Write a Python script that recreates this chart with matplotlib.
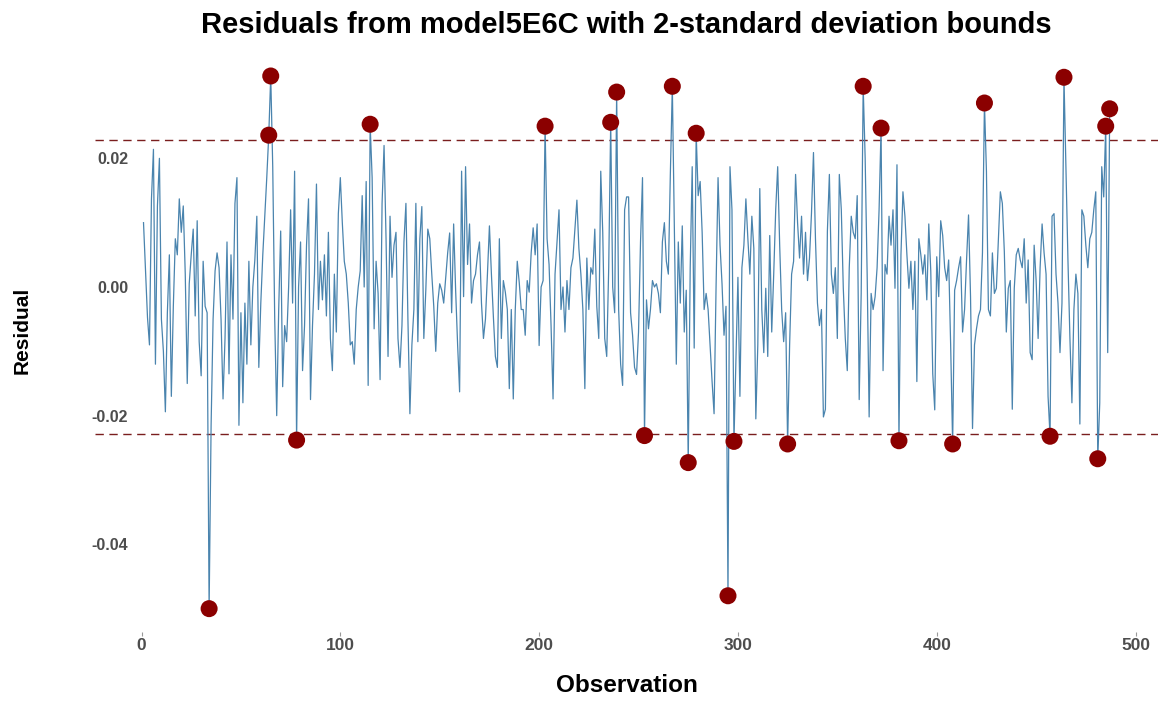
import matplotlib
matplotlib.use("Agg")
import matplotlib.pyplot as plt
import numpy as np

# ---------------- data ----------------
res_001_047 = [0.0100, 0.0026, -0.0047, -0.0090, 0.0137, 0.0214, -0.0120, 0.0126, 0.0200, -0.0050,
               -0.0100, -0.0194, -0.0040, 0.0050, -0.0170, -0.0030, 0.0075, 0.0050, 0.0137, 0.0085,
               0.0126, 0.0020, -0.0150, 0.0005, 0.0050, 0.0090, -0.0045, 0.0103, -0.0085, -0.0138,
               0.0040, -0.0030, -0.0040, -0.0500, -0.0215, -0.0050, 0.0025, 0.0053, 0.0030, -0.0050,
               -0.0174, -0.0080, 0.0070, -0.0135, 0.0050, -0.0050, 0.0130]
res_048_098 = [0.0170, -0.0215, -0.0040, -0.0180, -0.0025, -0.0120, 0.0040, -0.0090, 0.0000, 0.0042,
               0.0110, -0.0125, -0.0025, 0.0050, 0.0110, 0.0170, 0.0236, 0.0328, 0.0187, -0.0050,
               -0.0200, -0.0035, 0.0087, -0.0155, -0.0060, -0.0085, 0.0000, 0.0120, -0.0025, 0.0180,
               -0.0238, 0.0000, 0.0070, -0.0130, -0.0060, 0.0065, 0.0137, -0.0175, -0.0060, 0.0020,
               0.0160, -0.0035, 0.0040, -0.0020, 0.0050, -0.0045, 0.0085, -0.0080, -0.0130, 0.0020,
               -0.0070]
res_099_146 = [0.0114, 0.0170, 0.0100, 0.0040, 0.0020, -0.0025, -0.0090, -0.0085, -0.0120, -0.0035,
               0.0000, 0.0025, 0.0142, 0.0000, 0.0164, -0.0153, 0.0253, 0.0170, -0.0065, 0.0040,
               -0.0010, -0.0144, 0.0130, 0.0220, 0.0075, -0.0108, 0.0110, 0.0015, 0.0065, 0.0085,
               -0.0080, -0.0125, -0.0060, 0.0070, 0.0130, -0.0050, -0.0197, -0.0090, -0.0035, 0.0130,
               -0.0085, 0.0075, 0.0125, -0.0080, -0.0005, 0.0090, 0.0075, 0.0020]
res_147_196 = [-0.0030, -0.0100, -0.0025, 0.0005, -0.0005, -0.0025, 0.0015, 0.0053, 0.0084, -0.0040,
               0.0098, -0.0005, -0.0090, -0.0163, 0.0180, -0.0015, 0.0187, 0.0035, 0.0098, -0.0025,
               0.0010, 0.0020, 0.0050, 0.0070, -0.0025, -0.0080, -0.0050, 0.0020, 0.0095, 0.0020,
               -0.0047, -0.0108, -0.0125, 0.0075, -0.0080, 0.0010, -0.0008, -0.0035, -0.0158, -0.0035,
               -0.0174, -0.0035, 0.0040, 0.0007, -0.0035, -0.0035, -0.0075, 0.0010, -0.0008, 0.0053]
res_197_244 = [0.0092, 0.0050, 0.0098, -0.0091, 0.0000, 0.0010, 0.0250, 0.0075, 0.0035, -0.0060,
               -0.0174, 0.0020, 0.0070, 0.0120, -0.0035, 0.0000, -0.0070, 0.0010, -0.0035, 0.0030,
               0.0045, 0.0090, 0.0135, 0.0060, 0.0020, -0.0035, -0.0158, 0.0045, -0.0035, 0.0030,
               0.0020, 0.0090, -0.0030, -0.0080, 0.0180, 0.0085, -0.0080, -0.0108, 0.0030, 0.0256,
               0.0000, -0.0040, 0.0303, -0.0035, -0.0120, -0.0153, 0.0120, 0.0140]
res_245_293 = [0.0140, -0.0040, -0.0075, -0.0125, -0.0136, -0.0070, 0.0070, 0.0170, -0.0231, -0.0020,
               -0.0065, -0.0035, 0.0010, 0.0000, 0.0005, -0.0010, -0.0040, 0.0070, 0.0100, 0.0040,
               0.0020, 0.0175, 0.0312, 0.0090, -0.0120, 0.0070, -0.0025, 0.0095, -0.0070, -0.0005,
               -0.0273, 0.0030, 0.0187, -0.0095, 0.0239, 0.0142, 0.0164, 0.0085, -0.0035, -0.0010,
               -0.0035, -0.0091, -0.0147, -0.0197, 0.0000, 0.0170, 0.0065, 0.0005, -0.0075]
res_294_343 = [-0.0030, -0.0480, 0.0187, 0.0120, -0.0240, -0.0110, 0.0015, -0.0170, 0.0030, 0.0065,
               0.0137, 0.0075, 0.0020, 0.0110, 0.0060, -0.0205, -0.0090, 0.0153, -0.0035, -0.0102,
               -0.0002, -0.0108, 0.0080, -0.0070, 0.0020, 0.0120, 0.0187, 0.0065, -0.0035, -0.0085,
               -0.0040, -0.0244, -0.0090, 0.0020, 0.0040, 0.0175, 0.0100, 0.0045, 0.0110, 0.0020,
               0.0085, 0.0010, 0.0045, 0.0115, 0.0209, 0.0075, -0.0025, -0.0060, -0.0035, -0.0202]
res_344_393 = [-0.0190, 0.0087, 0.0175, 0.0020, -0.0010, 0.0030, -0.0080, 0.0175, 0.0120, -0.0002,
               -0.0080, -0.0130, 0.0030, 0.0110, 0.0085, 0.0075, 0.0142, -0.0175, -0.0010, 0.0312,
               0.0200, 0.0020, -0.0202, -0.0010, -0.0035, -0.0015, 0.0030, 0.0120, 0.0247, -0.0130,
               0.0035, 0.0020, 0.0110, 0.0065, 0.0120, -0.0002, 0.0190, -0.0239, 0.0050, 0.0148,
               0.0110, 0.0050, -0.0002, 0.0040, -0.0035, 0.0040, -0.0147, 0.0075, 0.0050, 0.0020]
res_394_443 = [0.0050, -0.0020, 0.0098, 0.0025, -0.0135, -0.0191, 0.0047, -0.0015, 0.0103, 0.0080,
               0.0030, 0.0010, 0.0042, -0.0090, -0.0244, -0.0005, 0.0010, 0.0030, 0.0047, -0.0070,
               -0.0035, 0.0042, 0.0112, -0.0015, -0.0220, -0.0090, -0.0065, -0.0045, -0.0035, 0.0053,
               0.0286, 0.0180, -0.0035, -0.0045, 0.0053, -0.0010, -0.0002, 0.0075, 0.0148, 0.0130,
               0.0055, -0.0070, -0.0002, 0.0010, -0.0190, -0.0002, 0.0050, 0.0060, 0.0042, 0.0030]
res_444_487 = [0.0075, -0.0025, 0.0042, -0.0102, -0.0113, 0.0065, 0.0010, -0.0080, 0.0030, 0.0098,
               0.0053, 0.0020, -0.0170, -0.0232, 0.0110, 0.0114, 0.0020, -0.0025, -0.0102, -0.0025,
               0.0326, 0.0187, 0.0042, -0.0080, -0.0180, -0.0035, 0.0020, -0.0010, -0.0213, 0.0120,
               0.0110, 0.0065, 0.0030, 0.0075, 0.0085, 0.0120, 0.0148, -0.0267, -0.0180, 0.0187,
               0.0140, 0.0250, -0.0102, 0.0277]

bound = 0.0229          # 2 standard deviations
x_ticks = [0, 100, 200, 300, 400, 500]
y_ticks = [-0.04, -0.02, 0.00, 0.02]
y_tick_labels = ["-0.04", "-0.02", "0.00", "0.02"]
title_text = "Residuals from model5E6C with 2-standard deviation bounds"
x_label = "Observation"
y_label = "Residual"

# ---------------- build ----------------
residuals = np.array(res_001_047 + res_048_098 + res_099_146 + res_147_196 + res_197_244 +
                     res_245_293 + res_294_343 + res_344_393 + res_394_443 + res_444_487)
obs = np.arange(1, len(residuals) + 1)
outlier = np.abs(residuals) > bound

plt.rcParams['font.family'] = ['Liberation Sans', 'DejaVu Sans']

W, H = 1168, 702
fig = plt.figure(figsize=(W / 100, H / 100), dpi=100)
fig.patch.set_facecolor("white")
L, R, T, B = 95, 1158, 50, 632
ax = fig.add_axes([L / W, 1 - B / H, (R - L) / W, (B - T) / H])

ax.plot(obs, residuals, color="#4A84AE", linewidth=0.9, zorder=2)
ax.axhline(bound, color="#7A1E1E", linewidth=1.0, linestyle=(0, (6, 4)), zorder=1)
ax.axhline(-bound, color="#7A1E1E", linewidth=1.0, linestyle=(0, (6, 4)), zorder=1)
ax.scatter(obs[outlier], residuals[outlier], s=150, color="#8B0000", zorder=3,
           edgecolors="none")

ax.set_xlim(-23.4, 511.3)
ax.set_ylim(-0.05363, 0.03684)
for s in ax.spines.values():
    s.set_visible(False)

ax.set_xticks(x_ticks)
ax.set_xticklabels([str(t) for t in x_ticks])
ax.set_yticks(y_ticks)
ax.set_yticklabels(y_tick_labels)
ax.tick_params(axis='x', length=3, color="#999999", labelsize=12.5, labelcolor="#4D4D4D", pad=1)
ax.tick_params(axis='y', length=0, labelsize=11.5, labelcolor="#4D4D4D", pad=-24)
for lab in ax.get_xticklabels() + ax.get_yticklabels():
    lab.set_fontweight("bold")

fig.text((L + R) / 2 / W, 1 - 686 / H, x_label, ha="center", va="center",
         fontsize=17.5, fontweight="bold")
fig.text(22 / W, 1 - 330 / H, y_label, ha="center", va="center", rotation=90,
         fontsize=15, fontweight="bold")
fig.text((L + R) / 2 / W, 1 - 25 / H, title_text, ha="center", va="center",
         fontsize=21, fontweight="bold")

fig.savefig("out.png", dpi=100, facecolor="white")
